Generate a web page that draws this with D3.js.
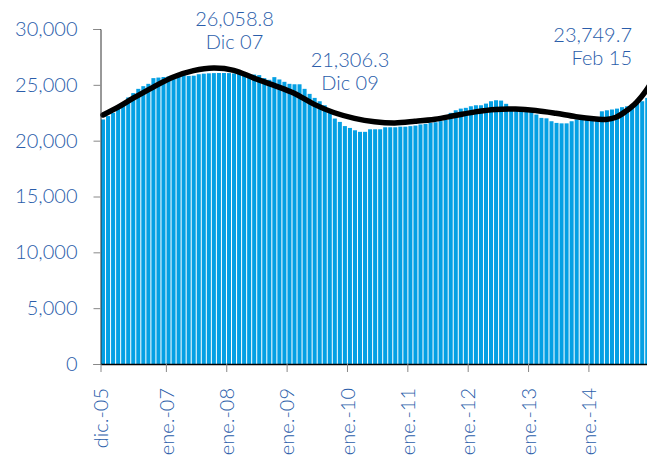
<!DOCTYPE html>
<html>
<head>
<meta charset="utf-8">
<script src="https://cdn.jsdelivr.net/npm/d3@7"></script>
<style>
body { margin:0; background:#fff; }
svg { display:block; font-family: Lato, "Open Sans", sans-serif; font-weight:300; }
</style>
</head>
<body>
<svg id="graph"></svg>
<script>
//monthly values, dic-05 .. feb-15
var values = [
	21900,22200,22500,22850,23300,23870,24260,24640,24880,25090,25600,25650,
	25700,25750,25800,25850,25870,25800,25820,25950,26000,26030,26050,26060,
	26058.8,26050,26020,26000,25980,25950,25920,25870,25600,25450,25690,25480,
	25270,25090,25050,25050,24640,24190,23830,23530,23170,22490,21980,21680,
	21306.3,21140,20930,20790,20790,21020,21020,21020,21200,21200,21200,21250,
	21250,21300,21350,21450,21500,21600,21650,21750,21850,22490,22720,22870,
	22940,23080,23170,23170,23320,23530,23620,23590,23300,22800,22750,22700,
	22650,22600,22340,22040,22000,21740,21590,21550,21550,21740,21890,21950,
	22000,22050,22100,22630,22720,22790,22870,23000,23080,23170,23300,23530,
	23830,23900,23749.7
]

//months for the categories
var months = d3.timeMonth.range(new Date(2005,11,1), new Date(2015,2,1))

//trend line (month index, value)
var trendIdx = [0,3,6,10,14,18,22,26,30,34,38,42,46,50,54,58,62,66,70,74,78,82,86,90,94,98,100,102,104,105,106,107,108,109,110]
var trendVal = [22300,23000,23800,24800,25700,26270,26500,26300,25600,24950,24240,23250,22500,22000,21700,21590,21730,21920,22250,22580,22800,22830,22700,22450,22150,21950,21900,22100,22650,23000,23400,23900,24500,25200,26000]

//x axis ticks
var tickIdx = [0,13,25,37,49,61,73,85,97]
var tickLabels = ["dic.-05","ene.-07","ene.-08","ene.-09","ene.-10","ene.-11","ene.-12","ene.-13","ene.-14"]

var yTicks = [0,5000,10000,15000,20000,25000,30000]

var svg = d3.select('#graph')
	.attr('width',647)
	.attr('height',457)

var margin = {top:29, left:100.5, bottom:93}
var step = 5.03
var n = values.length
var height = 457 - margin.top - margin.bottom

var textColor = "#2a5daa"

var x = d3.scaleBand()
	.domain(d3.range(n))
	.range([margin.left, margin.left + n*step])
	.paddingInner(0.2)
	.paddingOuter(0)

//linear scale on month index for tick marks at band edges
var xl = d3.scaleLinear()
	.domain([0, n])
	.range([margin.left, margin.left + n*step])

var y = d3.scaleLinear()
	.domain([0,30000])
	.range([margin.top + height, margin.top])

//bars
svg.append('g')
	.selectAll('rect')
	.data(values)
	.enter()
	.append('rect')
	.attr('x', function(d,i){ return x(i) + 0.5 })
	.attr('width', x.bandwidth())
	.attr('y', function(d){ return y(d) })
	.attr('height', function(d){ return y(0) - y(d) })
	.attr('fill', '#05a0e4')

//trend line
var line = d3.line()
	.x(function(d){ return xl(d[0]) + step/2 })
	.y(function(d){ return y(d[1]) })
	.curve(d3.curveCatmullRom.alpha(0.5))

svg.append('path')
	.datum(trendIdx.map(function(d,i){ return [d, trendVal[i]] }))
	.attr('d', line)
	.attr('fill','none')
	.attr('stroke','#000')
	.attr('stroke-width',5.5)
	.attr('stroke-linecap','round')

//y axis
var yaxis = svg.append('g')
	.attr('transform','translate('+margin.left+',0)')
	.call(d3.axisLeft(y).tickValues(yTicks).tickSize(7).tickPadding(16).tickFormat(d3.format(',')))
yaxis.select('.domain').attr('stroke','#333')
yaxis.selectAll('.tick line').attr('stroke','#888')
yaxis.selectAll('text')
	.attr('fill',textColor)
	.style('font-size','20px')
	.style('font-family','Lato, sans-serif')
	.style('font-weight','300')

//x axis
var xaxis = svg.append('g')
	.attr('transform','translate(0,'+y(0)+')')
	.call(d3.axisBottom(xl).tickValues(tickIdx).tickSize(8).tickSizeOuter(0)
		.tickFormat(function(d,i){ return tickLabels[i] }))
xaxis.select('.domain').attr('stroke','#000').attr('stroke-width',1.5)
xaxis.selectAll('.tick line').attr('stroke','#888')
xaxis.selectAll('text')
	.attr('fill',textColor)
	.style('font-size','20px')
	.style('font-family','Lato, sans-serif')
	.style('font-weight','300')
	.attr('text-anchor','end')
	.attr('transform','rotate(-90)')
	.attr('x',-24)
	.attr('y',0)
	.attr('dy','0.36em')

//annotations
var notes = [
	{t1:"26,058.8", t2:"Dic 07"},
	{t1:"21,306.3", t2:"Dic 09"},
	{t1:"23,749.7", t2:"Feb 15"}
]
var notePos = [
	{x:234.5, y:26, anchor:'middle'},
	{x:350, y:67, anchor:'middle'},
	{x:632, y:42, anchor:'end'}
]
notes.forEach(function(d,i){
	var p = notePos[i]
	var t = svg.append('text')
		.attr('x',p.x)
		.attr('y',p.y)
		.attr('text-anchor',p.anchor)
		.attr('fill',textColor)
		.style('font-size','20px')
	t.append('tspan').attr('x',p.x).text(d.t1)
	t.append('tspan').attr('x',p.x).attr('dy',23).text(d.t2)
})
</script>
</body>
</html>
